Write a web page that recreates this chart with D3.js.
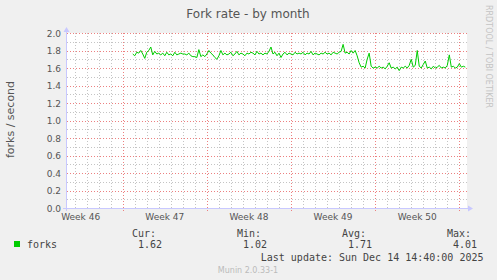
<!DOCTYPE html>
<html>
<head>
<meta charset="utf-8">
<title>Fork rate - by month</title>
<script src="https://cdn.jsdelivr.net/npm/d3@7"></script>
<style>
  body { margin: 0; background: #f0f0f0; }
  svg { display: block; }
  text { font-family: "DejaVu Sans", sans-serif; }
  .mono { font-family: "DejaVu Sans Mono", monospace; font-size: 10px; fill: #444; }
</style>
</head>
<body>
<svg id="chart" width="497" height="280"></svg>
<script>
// chart data
const title = "Fork rate - by month";
const yLabel = "forks / second";
const yMajor = [0, 0.2, 0.4, 0.6, 0.8, 1.0, 1.2, 1.4, 1.6, 1.8, 2.0];
const yMinor = [0.1, 0.3, 0.5, 0.7, 0.9, 1.1, 1.3, 1.5, 1.7, 1.9];
const timeStart = new Date(2025, 10, 11, 8, 45);
const timeEnd = new Date(2025, 11, 14, 15, 20);
const seriesStart = new Date(2025, 10, 16, 20, 0);
const stepHours = 4;
const forks = [
  1.76, 1.74, 1.78, 1.77, 1.80, 1.76, 1.71, 1.78, 1.80, 1.84,
  1.75, 1.79, 1.76, 1.77, 1.75, 1.77, 1.74, 1.78, 1.75, 1.76,
  1.74, 1.78, 1.75, 1.76, 1.77, 1.76, 1.76, 1.75, 1.77, 1.74,
  1.73, 1.73, 1.72, 1.81, 1.73, 1.75, 1.73, 1.76, 1.80, 1.77,
  1.75, 1.72, 1.70, 1.74, 1.80, 1.75, 1.77, 1.75, 1.76, 1.78,
  1.74, 1.76, 1.79, 1.75, 1.77, 1.76, 1.74, 1.77, 1.76, 1.78,
  1.77, 1.75, 1.79, 1.76, 1.77, 1.75, 1.77, 1.76, 1.79, 1.84,
  1.76, 1.78, 1.74, 1.77, 1.72, 1.76, 1.78, 1.75, 1.77, 1.76,
  1.75, 1.78, 1.76, 1.77, 1.76, 1.78, 1.75, 1.77, 1.76, 1.79,
  1.75, 1.77, 1.76, 1.75, 1.77, 1.76, 1.78, 1.76, 1.77, 1.75,
  1.78, 1.77, 1.76, 1.78, 1.79, 1.87, 1.77, 1.78, 1.76, 1.80,
  1.77, 1.80, 1.74, 1.66, 1.61, 1.62, 1.60, 1.70, 1.77, 1.62,
  1.60, 1.61, 1.60, 1.62, 1.60, 1.61, 1.59, 1.62, 1.66, 1.60,
  1.61, 1.59, 1.61, 1.57, 1.61, 1.60, 1.62, 1.60, 1.63, 1.70,
  1.61, 1.63, 1.80, 1.62, 1.60, 1.64, 1.68, 1.60, 1.61, 1.59,
  1.62, 1.60, 1.61, 1.63, 1.60, 1.61, 1.60, 1.63, 1.75, 1.61,
  1.62, 1.60, 1.61, 1.65, 1.61, 1.62, 1.61
];
const legendName = "forks";
const legendHeads = ["Cur:", "Min:", "Avg:", "Max:"];
const legendVals = ["1.62", "1.02", "1.71", "4.01"];
const lastUpdate = "Last update: Sun Dec 14 14:40:00 2025";
const footer = "Munin 2.0.33-1";
const vendor = "RRDTOOL / TOBI OETIKER";

const pLeft = 67, pRight = 467, pTop = 33, pBottom = 208;
const svg = d3.select("#chart");

const x = d3.scaleTime().domain([timeStart, timeEnd]).range([pLeft, pRight]);
const y = d3.scaleLinear().domain([0, 2]).range([pBottom, pTop]);
const crisp = v => Math.round(v) + 0.5;

svg.append("rect").attr("width", 497).attr("height", 280).attr("fill", "#f0f0f0");
svg.append("rect").attr("x", pLeft).attr("y", pTop)
  .attr("width", pRight - pLeft).attr("height", pBottom - pTop).attr("fill", "#fff");

// grid
const grid = svg.append("g").attr("shape-rendering", "crispEdges").attr("stroke-dasharray", "1,2");
const days = d3.timeDay.range(timeStart, timeEnd);
const sundays = d3.timeSunday.range(timeStart, timeEnd);
grid.selectAll(".vmin").data(days.filter(d => d.getDay() !== 0)).join("line")
  .attr("x1", d => crisp(x(d))).attr("x2", d => crisp(x(d)))
  .attr("y1", pTop).attr("y2", pBottom).attr("stroke", "#c4c4c4");
grid.selectAll(".hmin").data(yMinor).join("line")
  .attr("x1", pLeft).attr("x2", pRight)
  .attr("y1", d => crisp(y(d))).attr("y2", d => crisp(y(d))).attr("stroke", "#c4c4c4");
grid.selectAll(".hmaj").data(yMajor.slice(1)).join("line")
  .attr("x1", pLeft).attr("x2", pRight)
  .attr("y1", d => crisp(y(d))).attr("y2", d => crisp(y(d))).attr("stroke", "#ec8080");
grid.selectAll(".vmaj").data(sundays).join("line")
  .attr("x1", d => crisp(x(d))).attr("x2", d => crisp(x(d)))
  .attr("y1", pTop).attr("y2", pBottom + 3).attr("stroke", "#ec8080");

// axes
const axisCol = "#c8c8ff";
svg.append("line").attr("x1", pLeft - 4).attr("x2", pRight + 2)
  .attr("y1", pBottom + 0.5).attr("y2", pBottom + 0.5).attr("stroke", axisCol);
svg.append("line").attr("x1", pLeft - 0.5).attr("x2", pLeft - 0.5)
  .attr("y1", pBottom + 3).attr("y2", pTop - 2).attr("stroke", axisCol);
svg.append("path").attr("d", `M${pLeft - 3.5},${pTop - 1}L${pLeft + 2.5},${pTop - 1}L${pLeft - 0.5},${pTop - 6}Z`)
  .attr("fill", axisCol);
svg.append("path").attr("d", `M${pRight + 1},${pBottom - 2.5}L${pRight + 1},${pBottom + 3.5}L${pRight + 6},${pBottom + 0.5}Z`)
  .attr("fill", axisCol);

// y labels
svg.selectAll(".ylab").data(yMajor).join("text")
  .attr("x", pLeft - 6).attr("y", d => y(d) + 3.5)
  .attr("text-anchor", "end").attr("font-size", 9).attr("fill", "#555")
  .text(d => d.toFixed(1));

// week labels
const weekFmt = d3.timeFormat("%V");
const weekStarts = d3.timeSunday.range(d3.timeSunday.floor(timeStart), timeEnd);
const weekMids = weekStarts.map(d => new Date(+d + 3.5 * 864e5))
  .filter(d => d > timeStart && d < timeEnd);
svg.selectAll(".xlab").data(weekMids).join("text")
  .attr("x", d => x(d)).attr("y", pBottom + 11.5)
  .attr("text-anchor", "middle").attr("font-size", 9).attr("fill", "#555")
  .text(d => "Week " + +weekFmt(d));

// series
const pts = forks.map((v, i) => [new Date(+seriesStart + i * stepHours * 36e5), v]);
svg.append("path").datum(pts)
  .attr("fill", "none").attr("stroke", "#00cc00").attr("stroke-width", 1)
  .attr("d", d3.line().x(d => x(d[0])).y(d => y(d[1])));

// titles
svg.append("text").attr("x", 248).attr("y", 17.5).attr("text-anchor", "middle")
  .attr("font-size", 12).attr("fill", "#555").text(title);
svg.append("text").attr("transform", `translate(14,${(pTop + pBottom) / 2 - 1}) rotate(-90)`)
  .attr("text-anchor", "middle").attr("font-size", 11).attr("fill", "#555").text(yLabel);
svg.append("text").attr("transform", "translate(485.5,5) rotate(90)")
  .attr("font-size", 8).attr("fill", "#c4c4c4").text(vendor);

// legend
svg.append("rect").attr("x", 14).attr("y", 241).attr("width", 6).attr("height", 6).attr("fill", "#00cc00");
svg.append("text").attr("class", "mono").attr("x", 27).attr("y", 248).text(legendName);
legendHeads.forEach((h, i) => {
  const lx = 132 + i * 105;
  svg.append("text").attr("class", "mono").attr("x", lx).attr("y", 236.5).text(h);
  svg.append("text").attr("class", "mono").attr("x", lx + 6).attr("y", 248).text(legendVals[i]);
});
svg.append("text").attr("class", "mono").attr("x", 483.5).attr("y", 260.5)
  .attr("text-anchor", "end").text(lastUpdate);
svg.append("text").attr("x", 248).attr("y", 273).attr("text-anchor", "middle")
  .attr("font-size", 8).attr("fill", "#bbb").text(footer);
</script>
</body>
</html>
